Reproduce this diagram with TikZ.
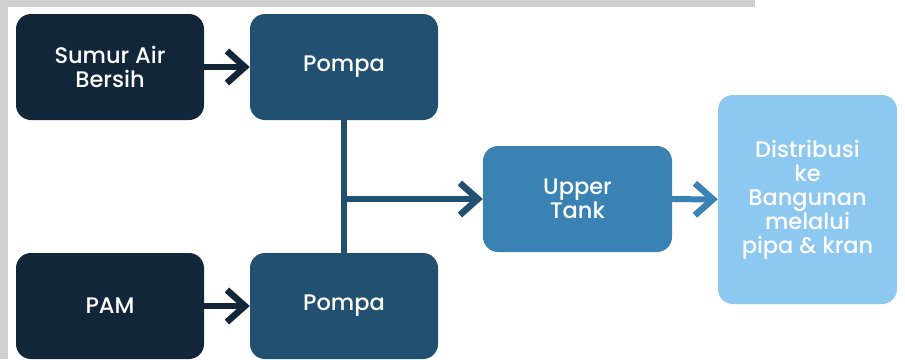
\documentclass[tikz,border=0pt]{standalone}
\usepackage{fontspec}
\setmainfont{Poppins}[UprightFont={* Medium}]
\usetikzlibrary{arrows.meta}
\definecolor{navy}{HTML}{12263A}
\definecolor{pompablue}{HTML}{215070}
\definecolor{tankblue}{HTML}{3A82B4}
\definecolor{skyblue}{HTML}{8CC8F0}
\definecolor{smudge}{HTML}{CFCFCF}

\begin{document}
\begin{tikzpicture}[x=1pt,y=-1pt,
	box/.style={rounded corners=15pt, minimum width=188pt, minimum height=106pt,
		align=center, text=white, font=\fontsize{22.5}{24}\selectfont, inner sep=0pt},
	flow/.style={line width=6pt, -{Straight Barb[length=18pt,width=32pt,line width=6.5pt]}}]
	\useasboundingbox (0,0) rectangle (905,359);
	\fill[white] (0,0) rectangle (905,359);
	\fill[smudge] (0,0) rectangle (755,7);
	\fill[smudge] (0,0) rectangle (8,359);
	\node[box, fill=navy] (sumur) at (110,67) {Sumur Air\\Bersih};
	\node[box, fill=pompablue] (pompaA) at (344,67) {Pompa};
	\node[box, fill=navy] (pam) at (110,306) {PAM};
	\node[box, fill=pompablue] (pompaB) at (344,306) {Pompa};
	\node[box, fill=tankblue, minimum width=189pt] (tank) at (577.5,199) {Upper\\Tank};
	\node[box, fill=skyblue, minimum width=179pt, minimum height=209pt] (distrib) at (807.5,199.5)
		{Distribusi\\ke\\Bangunan\\melalui\\pipa \& kran};
	\coordinate (split) at (pompaA.south |- tank.west);
	\draw[flow, navy] (sumur) -- (pompaA);
	\draw[flow, navy] (pam) -- (pompaB);
	\draw[pompablue, line width=6pt] (pompaA.south) -- (pompaB.north);
	\draw[flow, pompablue] (split) -- (tank.west);
	\draw[flow, tankblue] (tank) -- (distrib);
\end{tikzpicture}
\end{document}
